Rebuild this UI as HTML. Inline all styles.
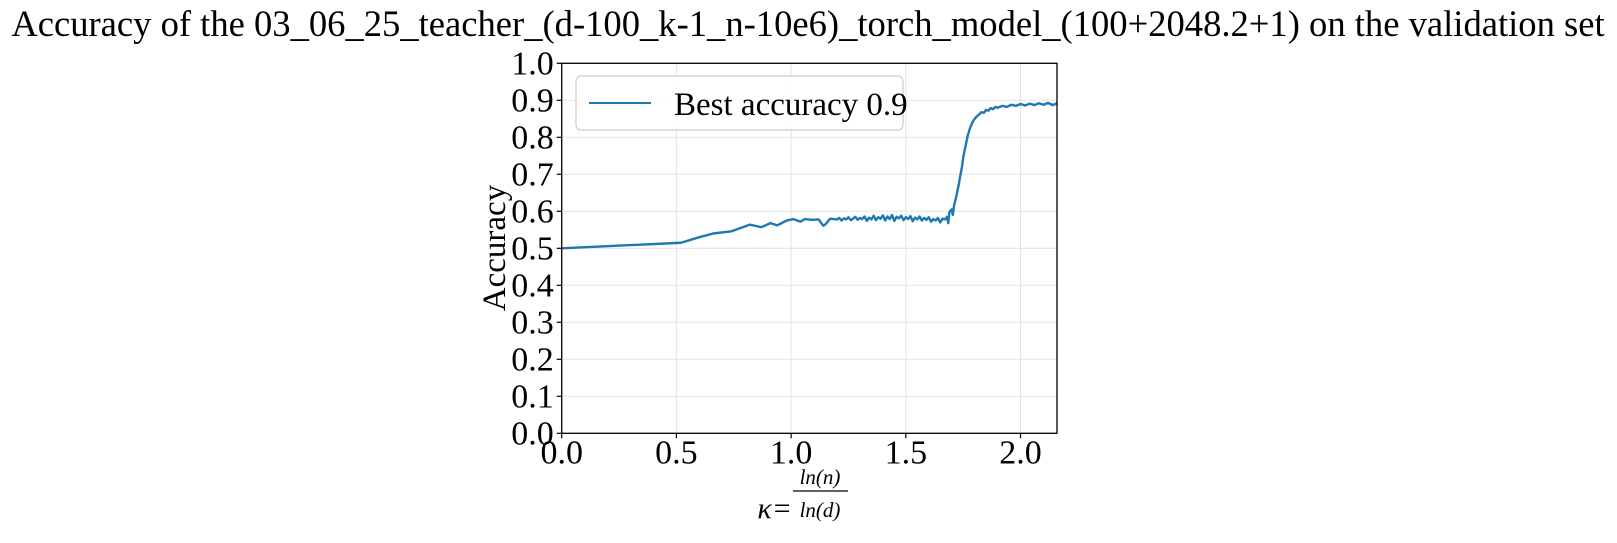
<!DOCTYPE html>
<html><head><meta charset="utf-8"><style>
html,body{margin:0;padding:0;background:#fff;}
svg text{font-family:"Liberation Serif","DejaVu Serif",serif;fill:#000;}
</style></head><body>
<svg id="chart" width="1617" height="538" viewBox="0 0 1617 538" xmlns="http://www.w3.org/2000/svg">
<text x="808" y="36" font-size="36.6" text-anchor="middle">Accuracy of the 03_06_25_teacher_(d-100_k-1_n-10e6)_torch_model_(100+2048.2+1) on the validation set</text>
<g id="grid"></g>
<g id="series"></g>
<rect x="561.7" y="63.3" width="495.3" height="370" fill="none" stroke="#000" stroke-width="1.3"/>
<g id="ticks"></g>
<text transform="translate(505,248) rotate(-90)" font-size="33" text-anchor="middle">Accuracy</text>
<g>
<text x="792" y="518" font-size="30" font-style="italic" text-anchor="end" font-family="DejaVu Sans, sans-serif">κ=</text>
<text x="820" y="484" font-size="21" font-style="italic" text-anchor="middle">ln(n)</text>
<line x1="793" y1="491" x2="848" y2="491" stroke="#000" stroke-width="1.2"/>
<text x="820" y="517" font-size="21" font-style="italic" text-anchor="middle">ln(d)</text>
</g>
<g>
<rect x="576" y="76" width="327" height="54" rx="5" fill="#fff" fill-opacity="0.85" stroke="#ccc" stroke-width="1.2"/>
<line x1="589" y1="103" x2="651" y2="103" stroke="#1f77b4" stroke-width="2"/>
<text x="674" y="115" font-size="33">Best accuracy 0.9</text>
</g>
</svg>
<script>
const kappa = [0,0.52,0.60,0.66,0.74,0.78,0.82,0.87,0.91,0.94,0.98,1.01,1.04,1.06,1.09,1.12,1.14,1.15,1.17,1.20,
1.21,1.22,1.23,1.24,1.25,1.26,1.27,1.28,1.29,1.30,1.31,1.32,1.33,1.34,1.35,1.36,1.37,1.38,1.39,1.40,1.41,1.42,1.43,1.44,1.45,1.46,1.47,1.48,1.49,1.50,1.51,1.52,1.53,1.54,1.55,1.56,1.57,1.58,1.59,1.60,1.61,1.62,1.63,1.64,1.65,1.66,1.67,1.68,
1.685,1.69,1.70,1.705,1.71,1.72,1.73,1.74,1.745,1.75,1.76,1.765,1.77,1.78,1.79,1.80,1.81,1.82,1.83,1.84,1.85,1.86,1.87,1.88,1.89,1.90,1.92,1.94,1.96,1.98,2.00,2.02,2.04,2.06,2.08,2.10,2.12,2.14,2.16];
const accuracy = [0.50,0.515,0.53,0.54,0.546,0.555,0.564,0.557,0.568,0.562,0.575,0.579,0.572,0.579,0.577,0.578,0.561,0.565,0.58,0.578,
0.582,0.575,0.581,0.578,0.584,0.576,0.580,0.585,0.577,0.582,0.579,0.586,0.574,0.583,0.578,0.588,0.576,0.584,0.580,0.589,0.575,0.586,0.579,0.590,0.574,0.585,0.581,0.588,0.576,0.584,0.579,0.587,0.573,0.583,0.578,0.586,0.575,0.582,0.577,0.584,0.572,0.579,0.575,0.582,0.570,0.580,0.578,0.585,
0.568,0.598,0.605,0.59,0.615,0.64,0.67,0.705,0.72,0.745,0.775,0.79,0.805,0.825,0.84,0.85,0.857,0.862,0.868,0.866,0.874,0.872,0.879,0.876,0.882,0.880,0.885,0.882,0.888,0.885,0.890,0.886,0.891,0.887,0.892,0.888,0.893,0.887,0.892];
const xTicks = [0,0.5,1.0,1.5,2.0];
const xTickLabels = ["0.0","0.5","1.0","1.5","2.0"];
const yTicks = [0,0.1,0.2,0.3,0.4,0.5,0.6,0.7,0.8,0.9,1.0];
const yTickLabels = ["0.0","0.1","0.2","0.3","0.4","0.5","0.6","0.7","0.8","0.9","1.0"];

const L=561.7,R=1057,T=63.3,B=433.3,XMAX=2.159;
const sx=v=>L+(v/XMAX)*(R-L);
const sy=v=>B-v*(B-T);
const NS="http://www.w3.org/2000/svg";
const grid=document.getElementById('grid'),ticks=document.getElementById('ticks'),series=document.getElementById('series');
function mk(tag,attrs,parent){const e=document.createElementNS(NS,tag);for(const k in attrs)e.setAttribute(k,attrs[k]);parent.appendChild(e);return e;}
xTicks.forEach((v,i)=>{
  const g=mk('line',{x1:sx(v),x2:sx(v),y1:T,y2:B,stroke:'#e3e3e3','stroke-width':1},grid);
  
  
  const t=mk('line',{x1:sx(v),x2:sx(v),y1:B,y2:B+5,stroke:'#000','stroke-width':1.2},ticks);
  
  
  const l=mk('text',{x:sx(v),y:B+30,'font-size':34,'text-anchor':'middle'},ticks);
  l.textContent=xTickLabels[i];
  
  
});
yTicks.forEach((v,i)=>{
  const g=mk('line',{x1:L,x2:R,y1:sy(v),y2:sy(v),stroke:'#e3e3e3','stroke-width':1},grid);
  
  
  const t=mk('line',{x1:L-5,x2:L,y1:sy(v),y2:sy(v),stroke:'#000','stroke-width':1.2},ticks);
  
  
  const l=mk('text',{x:L-8,y:sy(v)+11,'font-size':34,'text-anchor':'end'},ticks);
  l.textContent=yTickLabels[i];
  
  
});
const d=kappa.map((k,i)=>(i?'L':'M')+sx(k).toFixed(2)+','+sy(accuracy[i]).toFixed(2)).join(' ');
const p=mk('path',{d:d,fill:'none',stroke:'#1f77b4','stroke-width':2.4,'stroke-linejoin':'round'},series);


</script>
</body></html>
